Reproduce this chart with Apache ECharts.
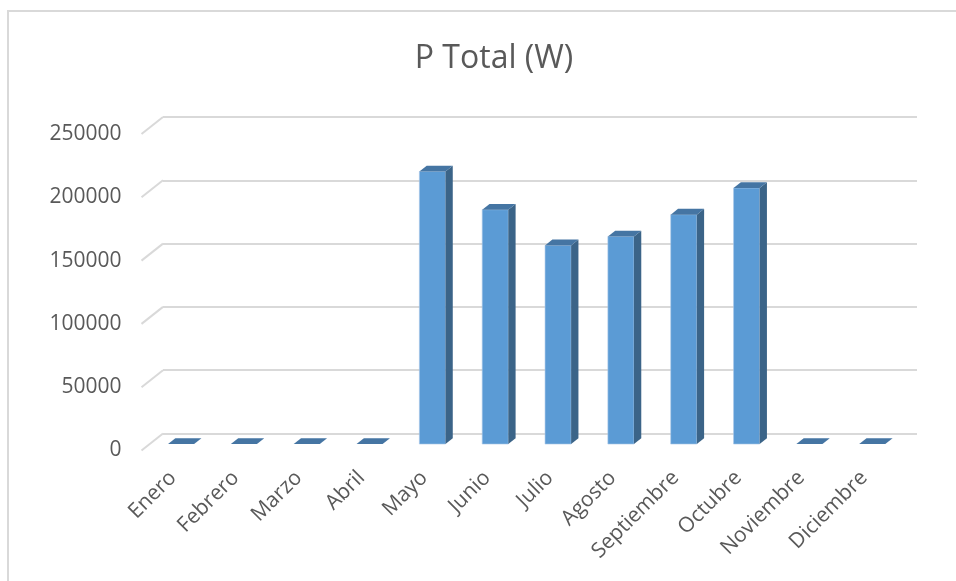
<!DOCTYPE html>
<html>
<head>
<meta charset="utf-8">
<title>P Total (W)</title>
<script src="https://cdn.jsdelivr.net/npm/echarts@6/dist/echarts.min.js"></script>
<style>
  html, body { margin: 0; padding: 0; background: #ffffff; }
  #chart { width: 956px; height: 581px; }
</style>
</head>
<body>
<div id="chart"></div>
<script>
// Monthly total power, watts
const months = ['Enero', 'Febrero', 'Marzo', 'Abril', 'Mayo', 'Junio', 'Julio',
  'Agosto', 'Septiembre', 'Octubre', 'Noviembre', 'Diciembre'];
const powerTotal = [0, 0, 0, 0, 215300, 185100, 156900, 164000, 181200, 202200, 0, 0];
const yTicks = [0, 50000, 100000, 150000, 200000, 250000];

// Oblique depth of the plot box: shift from the front plane to the back wall
const DEPTH_X = 21.5;
const DEPTH_Y = -17;
// Columns sit in the middle of the depth
const BAR_FRONT = 0.38;
const BAR_BACK = 0.72;
const BAR_WIDTH_RATIO = 0.415;

const FONT = '"Open Sans", "Noto Sans", sans-serif';
const TEXT_COLOR = '#595959';
const GRID_COLOR = '#d9d9d9';

const chart = echarts.init(document.getElementById('chart'), null, { renderer: 'canvas' });

function renderColumn(params, api) {
  const i = api.value(0);
  const v = api.value(1);
  const base = api.coord([i, 0]);
  const top = api.coord([i, v]);
  const band = api.size([1, 0])[0];
  const w = band * BAR_WIDTH_RATIO;
  const fx = DEPTH_X * BAR_FRONT, fy = DEPTH_Y * BAR_FRONT;
  const dx = DEPTH_X * (BAR_BACK - BAR_FRONT), dy = DEPTH_Y * (BAR_BACK - BAR_FRONT);
  const xl = base[0] + fx - w / 2;
  const xr = xl + w;
  const yb = base[1] + fy;
  const yt = top[1] + fy;
  const children = [];
  if (yb - yt > 0.5) {
    children.push({
      type: 'rect',
      shape: { x: xl, y: yt, width: w, height: yb - yt },
      style: { fill: '#5b9bd5', stroke: '#a9c8e8', lineWidth: 0.6 }
    });
    children.push({
      type: 'polygon',
      shape: { points: [[xr, yb], [xr + dx, yb + dy], [xr + dx, yt + dy], [xr, yt]] },
      style: { fill: '#3b6488' }
    });
  }
  children.push({
    type: 'polygon',
    shape: { points: [[xl, yt], [xr, yt], [xr + dx, yt + dy], [xl + dx, yt + dy]] },
    style: { fill: '#4575a3' }
  });
  return { type: 'group', children: children };
}

function renderSideGrid(params, api) {
  const v = api.value(0);
  const cs = params.coordSys;
  const p = api.coord([0, v]);
  return {
    type: 'line',
    shape: { x1: cs.x, y1: p[1], x2: cs.x + DEPTH_X, y2: p[1] + DEPTH_Y },
    style: { stroke: GRID_COLOR, lineWidth: 2 }
  };
}

const option = {
  backgroundColor: '#ffffff',
  animation: false,
  title: {
    text: 'P Total (W)',
    left: 489,
    top: 38,
    textAlign: 'center',
    textStyle: { fontFamily: FONT, fontSize: 32, fontWeight: 'normal', color: TEXT_COLOR }
  },
  graphic: [{
    type: 'rect',
    shape: { x: 8, y: 11, width: 1200, height: 900 },
    style: { fill: 'none', stroke: GRID_COLOR, lineWidth: 2 },
    silent: true
  }],
  grid: [
    // back wall
    { left: 163, right: 39, top: 117, bottom: 147.5 },
    // front plane
    { left: 141.5, right: 60.5, top: 134, bottom: 130.5 }
  ],
  xAxis: [
    {
      type: 'category', gridIndex: 0, data: months,
      axisLine: { show: false }, axisTick: { show: false }, axisLabel: { show: false }
    },
    {
      type: 'category', gridIndex: 1, data: months,
      axisLine: { show: false }, axisTick: { show: false },
      axisLabel: {
        interval: 0, rotate: 45, margin: 24,
        fontFamily: FONT, fontSize: 21, color: TEXT_COLOR
      }
    }
  ],
  yAxis: [
    {
      type: 'value', gridIndex: 0, min: 0, max: 250000, interval: 50000,
      axisLine: { show: false }, axisTick: { show: false }, axisLabel: { show: false },
      splitLine: { lineStyle: { color: GRID_COLOR, width: 2 } }
    },
    {
      type: 'value', gridIndex: 1, min: 0, max: 250000, interval: 50000,
      axisLine: { show: false }, axisTick: { show: false },
      splitLine: { show: false },
      axisLabel: {
        margin: 20, fontFamily: FONT, fontSize: 21, color: TEXT_COLOR,
        formatter: v => String(v)
      }
    }
  ],
  series: [
    {
      type: 'custom',
      xAxisIndex: 1, yAxisIndex: 1,
      renderItem: renderSideGrid,
      data: yTicks.map(v => [v]),
      encode: { y: 0 },
      silent: true
    },
    {
      type: 'custom',
      name: 'P Total (W)',
      xAxisIndex: 1, yAxisIndex: 1,
      renderItem: renderColumn,
      data: months.map((m, i) => [i, powerTotal[i]]),
      encode: { x: 0, y: 1 },
      z: 3
    }
  ]
};

chart.setOption(option);
</script>
</body>
</html>
